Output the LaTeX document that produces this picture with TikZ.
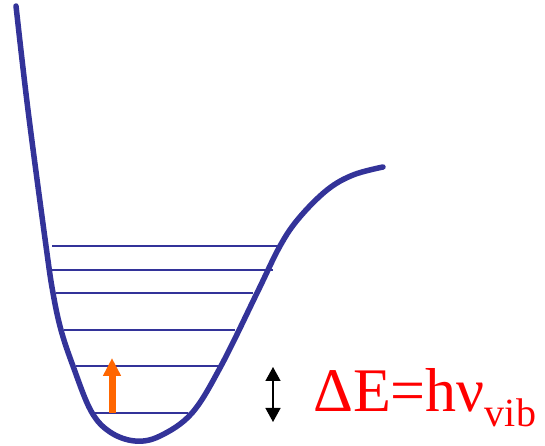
\documentclass[tikz,border=0pt]{standalone}
\usepackage{fontspec}
\newfontfamily\labelfont{Liberation Serif}
\usetikzlibrary{arrows.meta}
\definecolor{wellblue}{HTML}{333399}
\definecolor{exciteorange}{HTML}{FF6600}
\tikzset{
  potential/.style={wellblue,line width=5.5pt,line cap=round},
  level/.style={wellblue,line width=2pt},
}
\begin{document}
\begin{tikzpicture}[x=1pt,y=1pt]
  \useasboundingbox (0,0) rectangle (545,446);

  % Potentialkurve
  \draw[potential] plot[smooth,tension=0.6] coordinates {
    (16,440) (28,336) (46,200) (53,153) (61,116) (73,80) (91,35)
    (110,14) (135,5) (160,10) (192,33) (221,80) (257,153)
    (280,200) (299,228) (327,256) (353,271) (383,279)};

  % Schwingungsniveaus
  \foreach \y/\xa/\xb in {200/52/278, 176/52/273, 153/56/253,
                          116/64/235, 80/76/220, 33/94/188}
    \draw[level] (\xa,\y) -- (\xb,\y);

  % Anregung
  \coordinate (lo) at (112,33);
  \coordinate (hi) at (112,88);
  \draw[exciteorange,line width=7pt,-{Triangle[width=17pt,length=18pt]}] (lo) -- (hi);

  % Abstand
  \coordinate (gtop) at (273,79);
  \coordinate (gbot) at (273,24);
  \draw[line width=1.5pt,{Triangle[width=15pt,length=14pt]}-{Triangle[width=15pt,length=14pt]}] (gtop) -- (gbot);

  \node[anchor=base west,inner sep=0,text=red] (dE) at (313,34)
    {\labelfont\fontsize{62}{62}\selectfont ΔE=hν\raisebox{-15pt}{\fontsize{40}{40}\selectfont vib}};
\end{tikzpicture}
\end{document}
